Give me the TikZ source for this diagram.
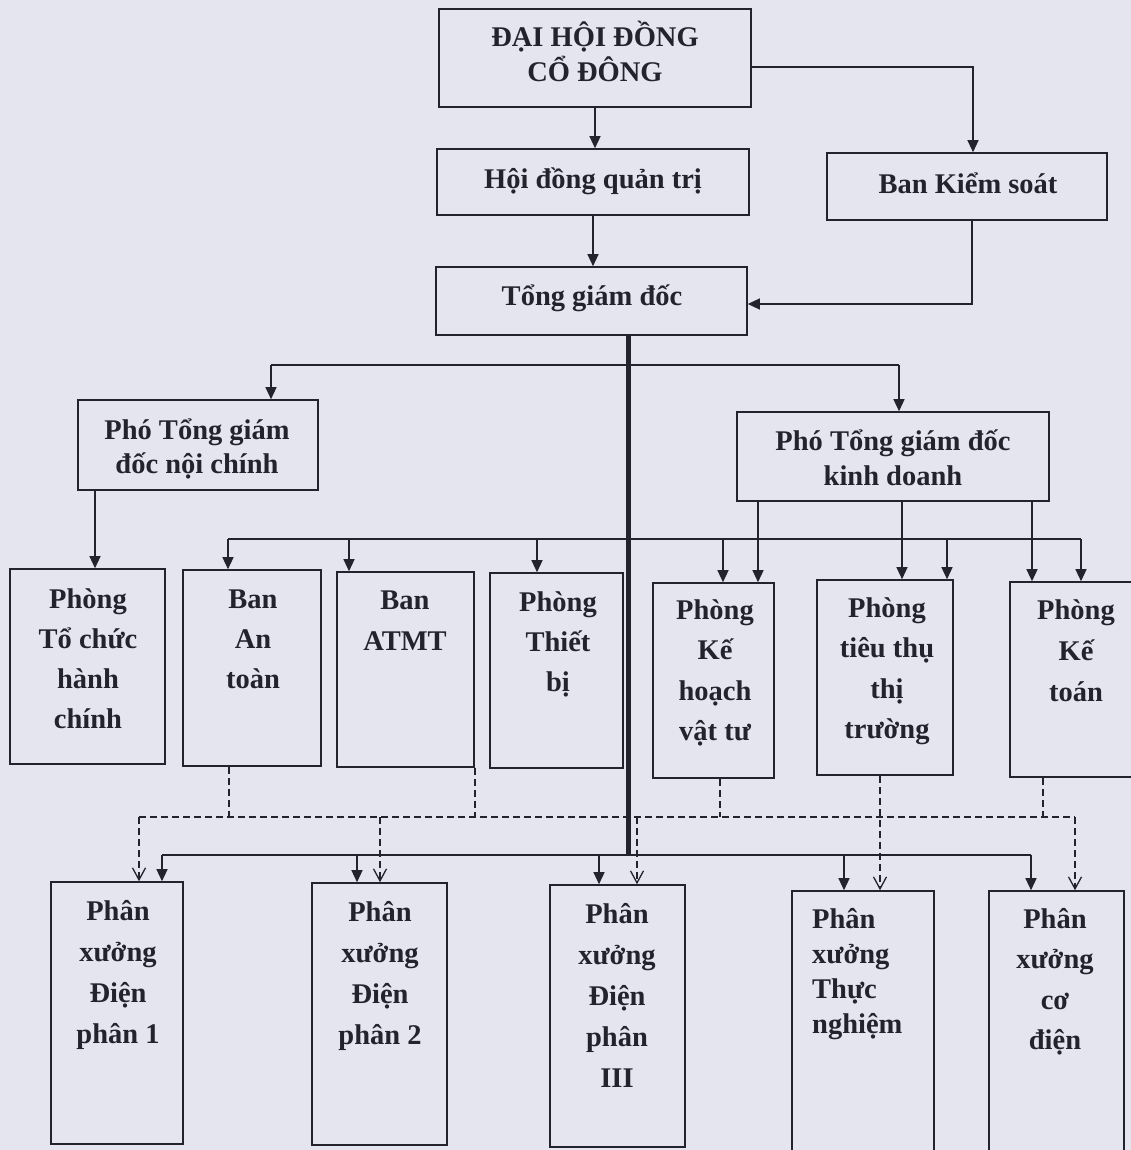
\documentclass[tikz,border=0pt]{standalone}
\usepackage{fontspec}
\setmainfont{Liberation Serif}
\usetikzlibrary{arrows.meta}
\definecolor{bg}{RGB}{229,229,239}
\definecolor{ink}{RGB}{35,35,45}
\newcommand{\fstrut}{\rule{0pt}{32pt}}
\begin{document}
\begin{tikzpicture}[x=1pt,y=-1pt,
  box/.style={draw=ink, line width=1.6pt, inner sep=0pt},
  txt/.style={font=\fontsize{28.5}{#1}\selectfont\bfseries, align=center, inner sep=0pt, anchor=north, text=ink},
  txt/.default=40,
  ln/.style={draw=ink, line width=1.3pt},
  dln/.style={ln, dash pattern=on 7pt off 4pt},
  arr/.style={ln, -{Triangle[length=12pt,width=11pt]}},
  darr/.style={dln, -{Straight Barb[length=12pt,width=13pt]}},
  thk/.style={draw=ink, line width=5pt}]
\fill[bg] (0,0) rectangle (1131,1150);
\useasboundingbox (0,0) rectangle (1131,1150);

% boxes
\node[box, minimum width=312pt, minimum height=98pt] (dh) at (595,58) {};
\node[box, minimum width=312pt, minimum height=66pt] (hd) at (593,182) {};
\node[box, minimum width=280pt, minimum height=67pt] (bks) at (967,186.5) {};
\node[box, minimum width=311pt, minimum height=68pt] (tgd) at (591.5,301) {};
\node[box, minimum width=240pt, minimum height=90pt] (pnc) at (198,445) {};
\node[box, minimum width=312pt, minimum height=89pt] (pkd) at (893,456.5) {};
\node[box, minimum width=155pt, minimum height=195pt] (tchc) at (87.5,666.5) {};
\node[box, minimum width=138pt, minimum height=196pt] (bat) at (252,668) {};
\node[box, minimum width=137pt, minimum height=195pt] (atmt) at (405.5,669.5) {};
\node[box, minimum width=133pt, minimum height=195pt] (ptb) at (556.5,670.5) {};
\node[box, minimum width=121pt, minimum height=195pt] (khvt) at (713.5,680.5) {};
\node[box, minimum width=136pt, minimum height=195pt] (tttt) at (885,677.5) {};
\node[box, minimum width=132pt, minimum height=195pt] (kt) at (1076,679.5) {};
\node[box, minimum width=132pt, minimum height=262pt] (p1) at (117,1013) {};
\node[box, minimum width=135pt, minimum height=262pt] (p2) at (379.5,1014) {};
\node[box, minimum width=135pt, minimum height=262pt] (p3) at (617.5,1016) {};
\node[box, minimum width=142pt, minimum height=274pt] (ptn) at (863,1028) {};
\node[box, minimum width=135pt, minimum height=274pt] (pcd) at (1056.5,1028) {};

% texts
\node[txt=35] (tdh) at (595,14) {\fstrut ĐẠI HỘI ĐỒNG\\CỔ ĐÔNG};
\node[txt] (thd) at (593,156) {\fstrut Hội đồng quản trị};
\node[txt] (tbks) at (968,161) {\fstrut Ban Kiểm soát};
\node[txt] (ttgd) at (592,273) {\fstrut Tổng giám đốc};
\node[txt=34] (tpnc) at (197,407) {\fstrut Phó Tổng giám\\đốc nội chính};
\node[txt=35] (tpkd) at (893,418) {\fstrut Phó Tổng giám đốc\\kinh doanh};
\node[txt=40] (ttchc) at (88,576) {\fstrut Phòng\\Tổ chức\\hành\\chính};
\node[txt=40] (tbat) at (253,576) {\fstrut Ban\\An\\toàn};
\node[txt=41] (tatmt) at (405,577) {\fstrut Ban\\ATMT};
\node[txt=40] (tptb) at (558,579) {\fstrut Phòng\\Thiết\\bị};
\node[txt=40.5] (tkhvt) at (715,587) {\fstrut Phòng\\Kế\\hoạch\\vật tư};
\node[txt=40.5] (ttttt) at (887,585) {\fstrut Phòng\\tiêu thụ\\thị\\trường};
\node[txt=41] (tkt) at (1076,587) {\fstrut Phòng\\Kế\\toán};
\node[txt=41] (tp1) at (118,888) {\fstrut Phân\\xưởng\\Điện\\phân 1};
\node[txt=41] (tp2) at (380,889) {\fstrut Phân\\xưởng\\Điện\\phân 2};
\node[txt=41] (tp3) at (617,891) {\fstrut Phân\\xưởng\\Điện\\phân\\III};
\node[txt=35, align=left, anchor=north west] (tptn) at (812,896) {\fstrut Phân\\xưởng\\Thực\\nghiệm};
\node[txt=40.5] (tpcd) at (1055,896) {\fstrut Phân\\xưởng\\cơ\\điện};

% junction coordinates
\coordinate (c1) at (973,67);
\coordinate (c2) at (972,304);
\coordinate (th) at (628,855);
\coordinate (tL) at (271,365);
\coordinate (tR) at (899,365);
\coordinate (n1) at (95,490);
\coordinate (mL) at (228,539);
\coordinate (m2) at (349,539);
\coordinate (m3) at (537,539);
\coordinate (m4) at (723,539);
\coordinate (m5) at (947,539);
\coordinate (mR) at (1081,539);
\coordinate (k1) at (758,539);
\coordinate (k2) at (902,539);
\coordinate (k3) at (1032,539);
\coordinate (sL) at (162,855);
\coordinate (s2) at (357,855);
\coordinate (s3) at (599,855);
\coordinate (s4) at (844,855);
\coordinate (sR) at (1031,855);
\coordinate (dL) at (139,817);
\coordinate (d1) at (229,817);
\coordinate (d2) at (475,817);
\coordinate (d3) at (380,817);
\coordinate (d4) at (637,817);
\coordinate (d5) at (720,817);
\coordinate (d6) at (1043,817);
\coordinate (dR) at (1075,817);
\coordinate (dt) at (880,817);

% top connectors
\draw[arr] (dh.south) -- (dh.south |- hd.north);
\draw[arr] (hd.south) -- (hd.south |- tgd.north);
\draw[arr] (c1 -| dh.east) -- (c1) -- (c1 |- bks.north);
\draw[arr] (c2 |- bks.south) -- (c2) -- (c2 -| tgd.east);

% thick trunk
\draw[thk] (th |- tgd.south) -- (th);

% deputies
\draw[ln] (tL) -- (tR);
\draw[arr] (tL) -- (tL |- pnc.north);
\draw[arr] (tR) -- (tR |- pkd.north);
\draw[arr] (n1 |- pnc.south) -- (n1 |- tchc.north);

% middle bus
\draw[ln] (mL) -- (mR);
\draw[arr] (mL) -- (mL |- bat.north);
\draw[arr] (m2) -- (m2 |- atmt.north);
\draw[arr] (m3) -- (m3 |- ptb.north);
\draw[arr] (m4) -- (m4 |- khvt.north);
\draw[arr] (m5) -- (m5 |- tttt.north);
\draw[arr] (mR) -- (mR |- kt.north);
\draw[arr] (k1 |- pkd.south) -- (k1 |- khvt.north);
\draw[arr] (k2 |- pkd.south) -- (k2 |- tttt.north);
\draw[arr] (k3 |- pkd.south) -- (k3 |- kt.north);

% lower solid bus
\draw[ln] (sL) -- (sR);
\draw[arr] (sL) -- (sL |- p1.north);
\draw[arr] (s2) -- (s2 |- p2.north);
\draw[arr] (s3) -- (s3 |- p3.north);
\draw[arr] (s4) -- (s4 |- ptn.north);
\draw[arr] (sR) -- (sR |- pcd.north);

% dashed links
\draw[dln] (dL) -- (dR);
\draw[dln] (d1 |- bat.south) -- (d1);
\draw[dln] (d2 |- atmt.south) -- (d2);
\draw[dln] (d5 |- khvt.south) -- (d5);
\draw[dln] (d6 |- kt.south) -- (d6);
\draw[darr] (dL) -- (dL |- p1.north);
\draw[darr] (d3) -- (d3 |- p2.north);
\draw[darr] (d4) -- (d4 |- p3.north);
\draw[darr] (dR) -- (dR |- pcd.north);
\draw[darr] (dt |- tttt.south) -- (dt |- ptn.north);
\end{tikzpicture}
\end{document}
